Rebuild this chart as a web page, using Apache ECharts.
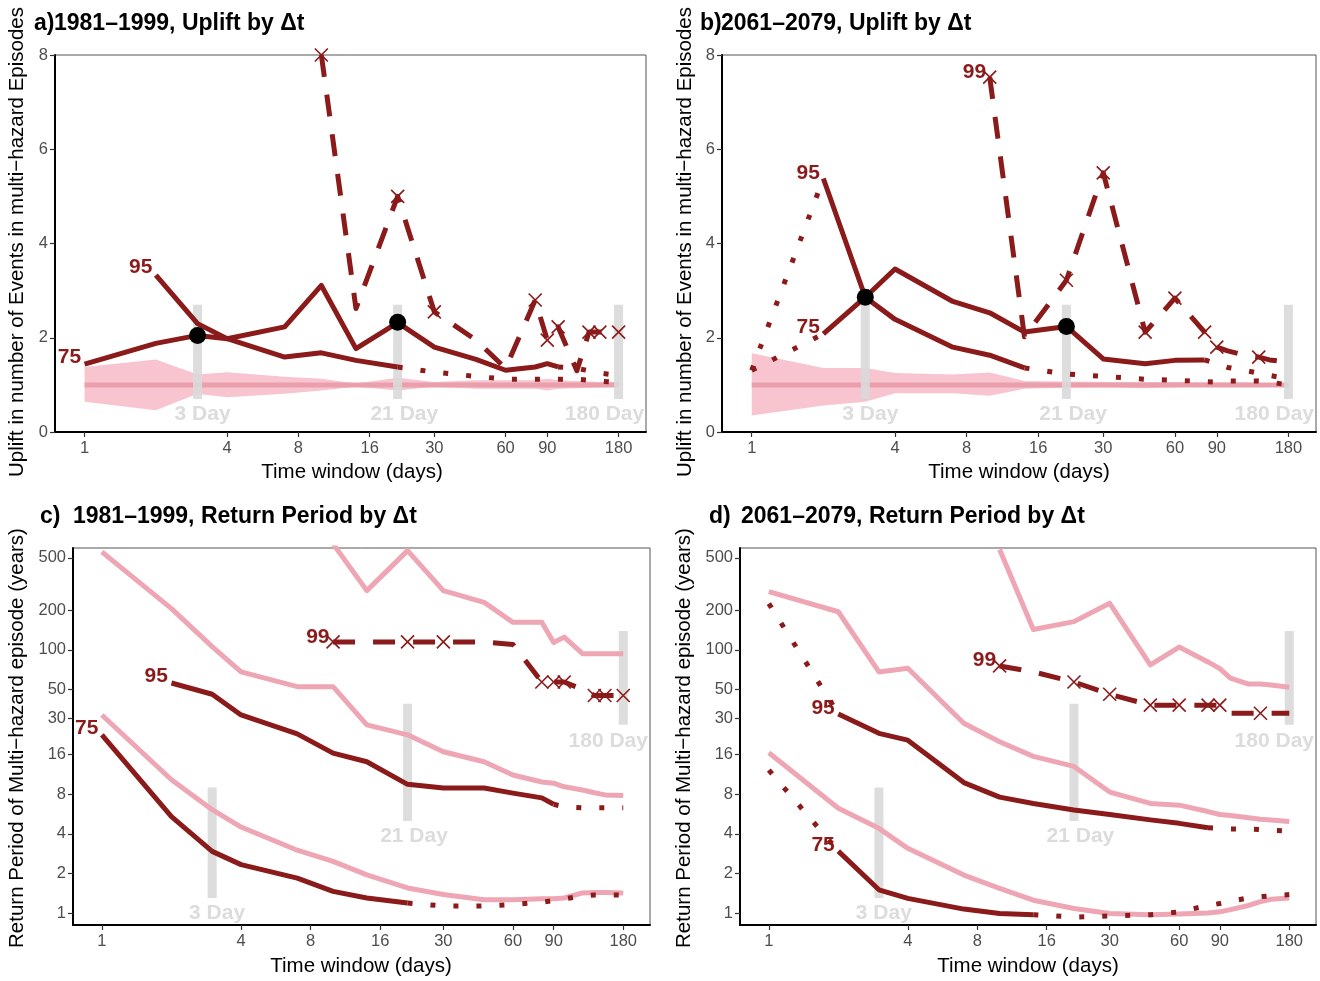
<!DOCTYPE html>
<html>
<head>
<meta charset="utf-8">
<script src="https://cdn.jsdelivr.net/npm/echarts@6/dist/echarts.min.js"></script>
<style>
  html, body { margin: 0; padding: 0; background: #fff; }
  #chart { width: 1320px; height: 981px; }
</style>
</head>
<body>
<div id="chart"></div>
<script>
// time windows (days) shared by every series
var days = [1, 2, 3, 4, 7, 10, 14, 21, 30, 45, 60, 80, 90, 100, 120, 135, 150, 180];
var xTicks = [1, 4, 8, 16, 30, 60, 90, 180];
var returnTicks = [1, 2, 4, 8, 16, 30, 50, 100, 200, 500];

// a) 1981-1999, uplift (each array starts at the day given in its comment)
var a75Solid = [1.44, 1.88, 2.05, 1.98, 2.23, 3.11, 1.77, 2.32, 1.80, 1.54, 1.31, 1.38, 1.45, 1.38]; // from 1
var a75Dot = [1.38, 1.35, 1.30, 1.25, 1.20];                                                   // from 100
var a95Solid = [3.33, 2.30, 1.98, 1.59, 1.68, 1.52, 1.38];                                     // from 2
var a95Dot = [1.38, 1.27, 1.18, 1.12, 1.12, 1.12, 1.12, 1.12, 1.10, 1.08, 1.05];               // from 21
var a99Dash = [8.0, 2.62, 5.0, 2.55, 1.95, 1.35, 2.80, 1.95, 2.23, 1.30, 2.12, 2.12, 2.12];    // from 10
var a99Marks = [10, 21, 30, 80, 90, 100, 135, 150, 180];
var aBandLow = [0.64, 0.46, 0.81, 0.74, 0.81, 0.88, 0.96, 0.88, 0.96, 0.92, 0.92, 0.92, 0.88, 0.92, 0.93, 0.94, 0.95, 0.96];
var aBandHigh = [1.38, 1.54, 1.22, 1.27, 1.17, 1.13, 1.03, 1.15, 1.06, 1.10, 1.10, 1.10, 1.13, 1.10, 1.08, 1.07, 1.06, 1.06];
var aDotDays = [3, 21];
var aDotVals = [2.05, 2.33];

// b) 2061-2079, uplift
var b75Dot = [1.31, 2.08];                                                                      // from 1
var b75Solid = [2.08, 2.86, 3.46, 2.77, 2.53, 2.12, 2.24, 1.55, 1.45, 1.52, 1.53];              // from 2
var b75Dot2 = [1.53, 1.45, 1.37, 1.30, 1.25, 1.20, 1.13];                                       // from 80
var b95Dot = [1.31, 5.38];                                                                      // from 1
var b95Solid = [5.38, 2.86, 2.39, 1.80, 1.63, 1.36];                                            // from 2
var b95Dot2 = [1.36, 1.23, 1.18, 1.12, 1.10, 1.07, 1.06, 1.08, 1.08, 1.08, 1.06, 1.00];         // from 14
var b99Dash = [7.53, 2.02, 3.22, 5.50, 2.12, 2.84, 2.12, 1.80, 1.72, 1.62, 1.59, 1.53, 1.48];   // from 10
var b99Marks = [10, 21, 30, 45, 60, 80, 90, 135];
var bBandLow = [0.35, 0.56, 0.64, 0.82, 0.82, 0.77, 0.92, 0.94, 0.95, 0.93, 0.95, 0.96, 0.96, 0.96, 0.96, 0.96, 0.97, 0.97];
var bBandHigh = [1.67, 1.36, 1.36, 1.25, 1.22, 1.26, 1.08, 1.07, 1.06, 1.06, 1.06, 1.05, 1.05, 1.05, 1.05, 1.04, 1.04, 1.03];
var bDotDays = [3, 21];
var bDotVals = [2.86, 2.24];

// c) 1981-1999, return period (years)
var c75Solid = [22.6, 5.4, 2.94, 2.33, 1.84, 1.46, 1.30, 1.19];                                 // from 1
var c75Dot = [1.19, 1.13, 1.13, 1.16, 1.21, 1.24, 1.28, 1.35, 1.37, 1.37, 1.37];                // from 21
var c75Pink = [32, 10.3, 6.1, 4.5, 3.0, 2.47, 1.95, 1.55, 1.38, 1.26, 1.26, 1.28, 1.28, 1.30, 1.42, 1.43, 1.43, 1.42];
var c95Solid = [56, 46, 32, 23, 16.4, 14.1, 9.5, 8.9, 8.9, 8.15, 7.5, 6.7];                     // from 2
var c95Dot = [6.7, 6.4, 6.3, 6.3, 6.3, 6.3];                                                    // from 90
var c95Pink = [556, 206, 106, 68, 52.5, 52.5, 26.9, 22.6, 16.8, 14.1, 11.2, 9.9, 9.7, 9.1, 8.6, 8.2, 7.9, 7.8];
var c99Pink = [640, 282, 568, 282, 230, 162, 162, 114, 125, 93.5, 93.5, 93.5, 93.5];            // from 10
var c99Dash = [115, 115, 115, 115, 115, 110, 57, 57, 57, 50, 45, 45, 45];                       // from 10
var c99Marks = [10, 21, 30, 80, 90, 100, 135, 150, 180];

// d) 2061-2079, return period (years)
var d75Dot = [12.2, 2.95];                                                                      // from 1
var d75Solid = [2.95, 1.50, 1.29, 1.07, 0.99, 0.97];                                            // from 2
var d75Dot2 = [0.97, 0.93, 0.95, 0.97, 1.02, 1.14, 1.18, 1.23, 1.30, 1.33, 1.35, 1.38];         // from 14
var d75Pink = [16.5, 6.25, 4.4, 3.1, 1.94, 1.54, 1.25, 1.08, 0.99, 0.97, 0.98, 1.00, 1.02, 1.06, 1.14, 1.22, 1.27, 1.30];
var d95Dot = [225, 32.6];                                                                       // from 1
var d95Solid = [32.6, 23.2, 20.6, 9.8, 7.6, 6.8, 6.06, 5.6, 5.1, 4.8, 4.45];                    // from 2
var d95Dot2 = [4.45, 4.4, 4.35, 4.35, 4.3, 4.25, 4.2];                                          // from 80
var d95Pink = [277, 195, 68, 72.5, 27.7, 20, 15.5, 13, 8.3, 6.8, 6.6, 5.9, 5.6, 5.5, 5.3, 5.15, 5.1, 4.95];
var d99Pink = [580, 143, 164, 226, 77, 105, 81, 72, 61, 55, 55, 54, 52];                        // from 10
var d99Dash = [75.5, 68, 57, 46, 38, 38, 38, 38, 33, 33, 33, 33, 33];                           // from 10
var d99Marks = [10, 21, 30, 45, 60, 80, 90, 135];

var FONT = '"Liberation Sans", Arial, Helvetica, sans-serif';
var DARK = '#8b1a1a';
var PINK = '#eea6b4';
var BAND = '#f7c4d0';
var BAR = '#d9d9d9';
var DASH = [22, 18];
var DOT = [5, 18];

// values -> [day, value] pairs, starting at the given day
function pts(vals, fromDay) {
  var i0 = days.indexOf(fromDay || 1);
  return vals.map(function (v, i) { return [days[i0 + i], v]; });
}

var series = [];

function line(g, vals, fromDay, color, type, z) {
  series.push({
    type: 'line', xAxisIndex: g, yAxisIndex: g, data: pts(vals, fromDay),
    symbol: 'none', silent: true, z: z || 4,
    lineStyle: { color: color, width: 5, type: type || 'solid', cap: 'butt', join: 'round' }
  });
}

function crosses(g, vals, fromDay, which) {
  var i0 = days.indexOf(fromDay);
  series.push({
    type: 'scatter', xAxisIndex: g, yAxisIndex: g, silent: true, z: 5,
    data: which.map(function (d) { return [d, vals[days.indexOf(d) - i0]]; }),
    symbol: 'path://M0,0L10,10M10,0L0,10', symbolSize: 13,
    itemStyle: { color: 'rgba(0,0,0,0)', borderColor: DARK, borderWidth: 1.6, opacity: 1 }
  });
}

function band(g, low, high) {
  series.push({
    type: 'custom', xAxisIndex: g, yAxisIndex: g, silent: true, z: 1,
    data: days.map(function (d, i) { return [d, low[i], high[i]]; }),
    encode: { x: 0, y: [1, 2] },
    renderItem: function (params, api) {
      if (params.dataIndex !== 0) return null;
      var up = [], dn = [];
      for (var i = 0; i < days.length; i++) {
        up.push(api.coord([days[i], high[i]]));
        dn.unshift(api.coord([days[i], low[i]]));
      }
      return { type: 'polygon', shape: { points: up.concat(dn) }, style: { fill: BAND } };
    }
  });
  // the reference line at an uplift of 1
  series.push({
    type: 'line', xAxisIndex: g, yAxisIndex: g, data: [[1, 1], [180, 1]], symbol: 'none',
    silent: true, z: 2, lineStyle: { color: '#eb9fad', width: 5 }
  });
}

function dayBar(g, x, y0, y1) {
  series.push({
    type: 'line', xAxisIndex: g, yAxisIndex: g, data: [[x, y0], [x, y1]], symbol: 'none',
    silent: true, z: 2, lineStyle: { color: BAR, width: 9, opacity: 0.9, cap: 'butt' }
  });
}

function tag(g, x, y, text, color, size, pos) {
  series.push({
    type: 'scatter', xAxisIndex: g, yAxisIndex: g, data: [[x, y]], symbolSize: 1, silent: true, z: 7,
    itemStyle: { color: 'rgba(0,0,0,0)', opacity: 1 },
    label: {
      show: true, formatter: text, position: pos || 'inside', distance: 3,
      color: color, fontSize: size, fontWeight: 'bold', fontFamily: FONT
    }
  });
}

function dots(g, xs, ys) {
  series.push({
    type: 'scatter', xAxisIndex: g, yAxisIndex: g, silent: true, z: 6, symbolSize: 17,
    data: xs.map(function (x, i) { return [x, ys[i]]; }), itemStyle: { color: '#000', opacity: 1 }
  });
}

// ---- panel a
band(0, aBandLow, aBandHigh);
dayBar(0, 3, 0.7, 2.7); dayBar(0, 21, 0.7, 2.7); dayBar(0, 180, 0.7, 2.7);
line(0, a75Solid, 1, DARK); line(0, a75Dot, 100, DARK, DOT);
line(0, a95Solid, 2, DARK); line(0, a95Dot, 21, DARK, DOT);
line(0, a99Dash, 10, DARK, DASH);
crosses(0, a99Dash, 10, a99Marks);
dots(0, aDotDays, aDotVals);
tag(0, 1, 1.59, '75', DARK, 21, 'left'); tag(0, 2, 3.5, '95', DARK, 21, 'left');

// ---- panel b
band(1, bBandLow, bBandHigh);
dayBar(1, 3, 0.7, 2.7); dayBar(1, 21, 0.7, 2.7); dayBar(1, 180, 0.7, 2.7);
line(1, b75Dot, 1, DARK, DOT); line(1, b75Solid, 2, DARK); line(1, b75Dot2, 80, DARK, DOT);
line(1, b95Dot, 1, DARK, DOT); line(1, b95Solid, 2, DARK); line(1, b95Dot2, 14, DARK, DOT);
line(1, b99Dash, 10, DARK, DASH);
crosses(1, b99Dash, 10, b99Marks);
dots(1, bDotDays, bDotVals);
tag(1, 2, 5.5, '95', DARK, 21, 'left'); tag(1, 2, 2.23, '75', DARK, 21, 'left'); tag(1, 10, 7.63, '99', DARK, 21, 'left');

// ---- panel c
dayBar(2, 3, 1.3, 9); dayBar(2, 21, 5, 39); dayBar(2, 180, 27, 139);
line(2, c75Pink, 1, PINK, 'solid', 3); line(2, c95Pink, 1, PINK, 'solid', 3); line(2, c99Pink, 10, PINK, 'solid', 3);
line(2, c75Solid, 1, DARK); line(2, c75Dot, 21, DARK, DOT);
line(2, c95Solid, 2, DARK); line(2, c95Dot, 90, DARK, DOT);
line(2, c99Dash, 10, DARK, DASH);
crosses(2, c99Dash, 10, c99Marks);
tag(2, 10, 125, '99', DARK, 21, 'left'); tag(2, 2, 63, '95', DARK, 21, 'left'); tag(2, 1, 25.4, '75', DARK, 21, 'left');

// ---- panel d
dayBar(3, 3, 1.3, 9); dayBar(3, 21, 5, 39); dayBar(3, 180, 27, 139);
line(3, d75Pink, 1, PINK, 'solid', 3); line(3, d95Pink, 1, PINK, 'solid', 3); line(3, d99Pink, 10, PINK, 'solid', 3);
line(3, d75Dot, 1, DARK, DOT); line(3, d75Solid, 2, DARK); line(3, d75Dot2, 14, DARK, DOT);
line(3, d95Dot, 1, DARK, DOT); line(3, d95Solid, 2, DARK); line(3, d95Dot2, 80, DARK, DOT);
line(3, d99Dash, 10, DARK, DASH);
crosses(3, d99Dash, 10, d99Marks);
tag(3, 10, 84, '99', DARK, 21, 'left'); tag(3, 2, 36, '95', DARK, 21, 'left'); tag(3, 2, 3.3, '75', DARK, 21, 'left');

// window labels
var DAYGREY = '#dcdcdc';
[0, 1].forEach(function (g) {
  tag(g, 3.15, 0.38, '3 Day', DAYGREY, 21); tag(g, 22.4, 0.38, '21 Day', DAYGREY, 21); tag(g, 157, 0.38, '180 Day', DAYGREY, 21);
});
[2, 3].forEach(function (g) {
  tag(g, 3.15, 1.0, '3 Day', DAYGREY, 21); tag(g, 22.4, 3.8, '21 Day', DAYGREY, 21); tag(g, 155, 20.3, '180 Day', DAYGREY, 21);
});

var grids = [
  { left: 55, top: 55, width: 591, height: 377 },
  { left: 722, top: 55, width: 594, height: 377 },
  { left: 73, top: 548, width: 577, height: 377 },
  { left: 740, top: 548, width: 576, height: 377 }
];

var axisLine = { show: true, onZero: false, lineStyle: { color: '#000', width: 2 } };
var tickStyle = { color: '#333', width: 1.2 };
var labelStyle = { color: '#4d4d4d', fontSize: 16.5, fontFamily: FONT };

function xAx(g) {
  return {
    type: 'log', logBase: 2, gridIndex: g, min: 0.75, max: 235,
    axisLine: axisLine,
    axisTick: { show: true, customValues: xTicks, length: 5, lineStyle: tickStyle },
    axisLabel: Object.assign({ customValues: xTicks, margin: 8 }, labelStyle),
    splitLine: { show: false }, minorTick: { show: false }, minorSplitLine: { show: false }
  };
}
function yUp(g) {
  return {
    type: 'value', gridIndex: g, min: 0, max: 8, interval: 2,
    axisLine: axisLine,
    axisTick: { show: true, length: 5, lineStyle: tickStyle },
    axisLabel: Object.assign({ margin: 7 }, labelStyle),
    splitLine: { show: false }
  };
}
function yRet(g) {
  return {
    type: 'log', logBase: 2, gridIndex: g, min: 0.81, max: 595,
    axisLine: axisLine,
    axisTick: { show: true, customValues: returnTicks, length: 5, lineStyle: tickStyle },
    axisLabel: Object.assign({ customValues: returnTicks, margin: 7 }, labelStyle),
    splitLine: { show: false }, minorTick: { show: false }, minorSplitLine: { show: false }
  };
}

function text(x, y, str, size, weight, rot) {
  return {
    type: 'text', x: x, y: y, rotation: rot || 0, silent: true,
    style: {
      text: str, fill: '#000', fontSize: size, fontWeight: weight || 'normal', fontFamily: FONT,
      align: 'center', verticalAlign: 'middle', textAlign: 'center', textVerticalAlign: 'middle'
    }
  };
}
function leftText(x, y, str, size) {
  return {
    type: 'text', x: x, y: y, silent: true,
    style: {
      text: str, fill: '#000', fontSize: size, fontWeight: 'bold', fontFamily: FONT,
      align: 'left', verticalAlign: 'middle', textAlign: 'left', textVerticalAlign: 'middle'
    }
  };
}

var upliftName = 'Uplift in number of Events in multi\u2212hazard Episodes';
var returnName = 'Return Period of Multi\u2212hazard episode (years)';
var xName = 'Time window (days)';

var graphics = [
  leftText(34, 24, 'a)', 23), leftText(54, 24, '1981\u20131999, Uplift by \u0394t', 23),
  leftText(700, 24, 'b)', 23), leftText(721, 24, '2061\u20132079, Uplift by \u0394t', 23),
  leftText(40, 517, 'c)', 23), leftText(73, 517, '1981\u20131999, Return Period by \u0394t', 23),
  leftText(709, 517, 'd)', 23), leftText(741, 517, '2061\u20132079, Return Period by \u0394t', 23),
  text(17, 242, upliftName, 20.5, 'normal', Math.PI / 2),
  text(685, 242, upliftName, 20.5, 'normal', Math.PI / 2),
  text(17, 738, returnName, 20.5, 'normal', Math.PI / 2),
  text(684, 738, returnName, 20.5, 'normal', Math.PI / 2),
  text(352, 472, xName, 20.5), text(1019, 472, xName, 20.5),
  text(361, 966, xName, 20.5), text(1028, 966, xName, 20.5)
];

var chart = echarts.init(document.getElementById('chart'));
chart.setOption({
  animation: false,
  backgroundColor: '#fff',
  grid: grids.map(function (g) {
    return Object.assign({ show: true, borderColor: '#555', borderWidth: 1, backgroundColor: 'transparent' }, g);
  }),
  xAxis: [xAx(0), xAx(1), xAx(2), xAx(3)],
  yAxis: [yUp(0), yUp(1), yRet(2), yRet(3)],
  graphic: { elements: graphics },
  series: series
});
</script>
</body>
</html>
